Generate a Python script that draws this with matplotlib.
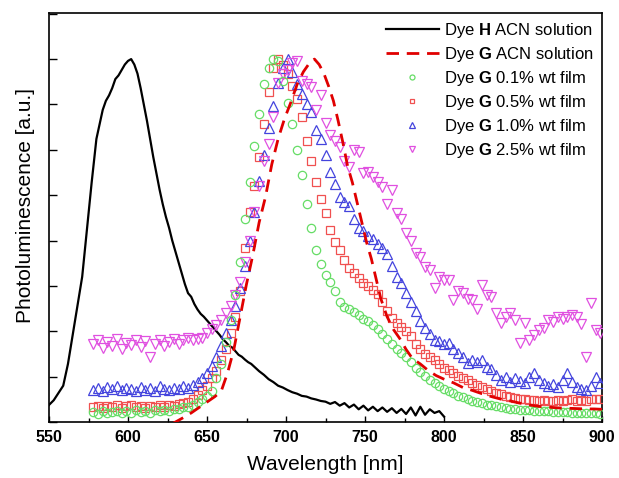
import numpy as np
import matplotlib
matplotlib.use("Agg")
import matplotlib.pyplot as plt
from matplotlib.ticker import MultipleLocator

plt.rcParams['font.family'] = ['Liberation Sans', 'DejaVu Sans']
plt.rcParams['mathtext.fontset'] = 'custom'
plt.rcParams['mathtext.rm'] = 'Liberation Sans'
plt.rcParams['mathtext.bf'] = 'Liberation Sans:bold'

# ---------------- data ----------------
# Dye H in ACN solution (line)
h_nm = [550, 553, 556, 559, 562, 565, 568, 571, 574, 577, 580, 582, 584, 586, 588, 590, 592, 594, 596, 598,
        600, 602, 604, 606, 608, 610, 612, 614, 616, 618, 620, 622, 624, 626, 628, 630, 632, 634, 636, 638,
        640, 642, 644, 646, 648, 650, 652, 654, 656, 658, 660, 662, 664, 666, 668, 670, 672, 674, 676, 678,
        680, 683, 686, 689, 692, 695, 698, 701, 704, 707, 710, 713, 716, 719, 722, 725, 728, 731, 734, 737,
        740, 743, 746, 749, 752, 755, 758, 761, 764, 767, 770, 773, 776, 779, 782, 785, 788, 791, 794, 797, 800]
h_pl = [0.047, 0.06, 0.08, 0.10, 0.16, 0.24, 0.32, 0.40, 0.53, 0.66, 0.78, 0.82, 0.86, 0.885, 0.90, 0.92, 0.945, 0.955, 0.97, 0.985,
        0.995, 1.0, 0.985, 0.96, 0.92, 0.875, 0.83, 0.78, 0.73, 0.685, 0.64, 0.60, 0.565, 0.535, 0.50, 0.47, 0.44, 0.41, 0.38, 0.355,
        0.345, 0.325, 0.31, 0.298, 0.29, 0.28, 0.27, 0.26, 0.25, 0.24, 0.228, 0.22, 0.21, 0.205, 0.195, 0.185, 0.18, 0.172, 0.165, 0.16,
        0.152, 0.14, 0.13, 0.118, 0.11, 0.10, 0.095, 0.088, 0.082, 0.078, 0.072, 0.07, 0.065, 0.062, 0.058, 0.056, 0.05, 0.055, 0.045, 0.052,
        0.04, 0.048, 0.035, 0.045, 0.032, 0.042, 0.03, 0.04, 0.028, 0.038, 0.025, 0.036, 0.022, 0.04, 0.018, 0.042, 0.02, 0.035, 0.025, 0.03, 0.015]

# Dye G in ACN solution (dashed)
g_nm = [628, 635, 640, 645, 650, 655, 659, 663, 667, 671, 675, 679, 683, 687, 691, 695, 699, 703, 707, 711,
        715, 718, 721, 724, 727, 730, 733, 736, 739, 742, 745, 748, 751, 754, 757, 760, 764, 768, 772, 776,
        780, 785, 790, 795, 800, 806, 812, 818, 824, 830, 836, 842, 848, 854, 860, 866, 872, 878, 884, 890, 895, 900]
g_pl = [-0.005, 0.012, 0.025, 0.04, 0.055, 0.07, 0.085, 0.135, 0.20, 0.29, 0.38, 0.46, 0.55, 0.62, 0.71, 0.78, 0.835, 0.88, 0.93, 0.965,
        0.99, 1.0, 0.985, 0.96, 0.925, 0.885, 0.83, 0.77, 0.705, 0.66, 0.605, 0.55, 0.495, 0.45, 0.395, 0.34, 0.29, 0.255, 0.23, 0.20,
        0.175, 0.16, 0.142, 0.128, 0.118, 0.108, 0.095, 0.087, 0.078, 0.07, 0.063, 0.058, 0.052, 0.047, 0.043, 0.041, 0.039, 0.038, 0.037, 0.036, 0.036, 0.035]

# Films: wavelength grid 578..899 nm, step 3
film_nm = list(range(578, 900, 3))

film_01 = [0.028, 0.022, 0.030, 0.025, 0.027, 0.031, 0.024, 0.029, 0.026, 0.033,
           0.028, 0.030, 0.026, 0.032, 0.029, 0.034, 0.031, 0.036, 0.035, 0.040,
           0.042, 0.048, 0.055, 0.063, 0.072, 0.085, 0.12, 0.16, 0.22, 0.28,
           0.35, 0.44, 0.56, 0.66, 0.76, 0.85, 0.93, 0.975, 1.0, 0.995,
           0.94, 0.88, 0.82, 0.75, 0.68, 0.60, 0.535, 0.475, 0.435, 0.405,
           0.385, 0.36, 0.33, 0.318, 0.31, 0.302, 0.294, 0.285, 0.277, 0.268,
           0.255, 0.242, 0.228, 0.215, 0.202, 0.19, 0.178, 0.164, 0.15, 0.138,
           0.127, 0.116, 0.107, 0.099, 0.092, 0.085, 0.079, 0.073, 0.068, 0.063,
           0.059, 0.055, 0.052, 0.048, 0.046, 0.043, 0.041, 0.039, 0.037, 0.035,
           0.034, 0.033, 0.032, 0.031, 0.030, 0.030, 0.029, 0.028, 0.028, 0.027,
           0.027, 0.026, 0.026, 0.025, 0.025, 0.024, 0.024, 0.023]

film_05 = [0.040, 0.045, 0.038, 0.044, 0.041, 0.047, 0.039, 0.043, 0.046, 0.040,
           0.044, 0.038, 0.045, 0.042, 0.047, 0.041, 0.046, 0.044, 0.050, 0.052,
           0.056, 0.062, 0.075, 0.088, 0.10, 0.12, 0.14, 0.17, 0.20, 0.245,
           0.29, 0.36, 0.48, 0.58, 0.65, 0.73, 0.82, 0.91, 0.975, 1.0,
           0.985, 0.96, 0.925, 0.89, 0.84, 0.775, 0.72, 0.66, 0.615, 0.575,
           0.53, 0.495, 0.475, 0.446, 0.425, 0.41, 0.398, 0.384, 0.376, 0.365,
           0.352, 0.33, 0.305, 0.287, 0.274, 0.262, 0.25, 0.236, 0.215, 0.20,
           0.188, 0.178, 0.17, 0.16, 0.15, 0.142, 0.135, 0.128, 0.122, 0.115,
           0.108, 0.102, 0.096, 0.09, 0.086, 0.081, 0.077, 0.073, 0.07, 0.066,
           0.064, 0.062, 0.060, 0.061, 0.058, 0.060, 0.057, 0.059, 0.061, 0.058,
           0.060, 0.062, 0.059, 0.061, 0.058, 0.062, 0.064, 0.063]

film_10 = [0.088, 0.095, 0.085, 0.097, 0.090, 0.099, 0.087, 0.094, 0.092, 0.086,
           0.096, 0.089, 0.093, 0.085, 0.098, 0.091, 0.087, 0.095, 0.090, 0.098,
           0.094, 0.103, 0.11, 0.12, 0.135, 0.155, 0.18, 0.21, 0.245, 0.28,
           0.32, 0.37, 0.43, 0.50, 0.58, 0.665, 0.735, 0.81, 0.87, 0.935,
           0.975, 1.0, 0.965, 0.93, 0.905, 0.875, 0.855, 0.805, 0.78, 0.735,
           0.69, 0.655, 0.62, 0.605, 0.595, 0.56, 0.535, 0.525, 0.512, 0.505,
           0.49, 0.48, 0.462, 0.43, 0.40, 0.382, 0.355, 0.33, 0.305, 0.278,
           0.26, 0.242, 0.226, 0.222, 0.215, 0.218, 0.20, 0.19, 0.178, 0.162,
           0.17, 0.165, 0.172, 0.152, 0.145, 0.13, 0.116, 0.125, 0.11, 0.12,
           0.112, 0.107, 0.125, 0.134, 0.115, 0.107, 0.098, 0.104, 0.097, 0.115,
           0.134, 0.11, 0.097, 0.09, 0.088, 0.10, 0.125, 0.107]

film_25 = [0.215, 0.225, 0.205, 0.22, 0.21, 0.228, 0.20, 0.218, 0.212, 0.225,
           0.208, 0.222, 0.18, 0.215, 0.226, 0.21, 0.22, 0.23, 0.215, 0.225,
           0.232, 0.225, 0.228, 0.232, 0.245, 0.255, 0.268, 0.28, 0.30, 0.32,
           0.35, 0.385, 0.44, 0.50, 0.58, 0.65, 0.72, 0.765, 0.84, 0.935,
           0.96, 0.97, 0.99, 0.995, 0.94, 0.93, 0.922, 0.86, 0.90, 0.823,
           0.79, 0.775, 0.758, 0.72, 0.703, 0.75, 0.745, 0.685, 0.69, 0.676,
           0.66, 0.648, 0.60, 0.639, 0.575, 0.56, 0.52, 0.50, 0.465, 0.455,
           0.428, 0.419, 0.368, 0.40, 0.39, 0.39, 0.336, 0.36, 0.355, 0.34,
           0.336, 0.31, 0.377, 0.35, 0.345, 0.30, 0.272, 0.29, 0.30, 0.28,
           0.217, 0.272, 0.226, 0.24, 0.253, 0.26, 0.281, 0.275, 0.29, 0.285,
           0.29, 0.295, 0.29, 0.27, 0.18, 0.327, 0.253, 0.244]

x_ticks = [550, 600, 650, 700, 750, 800, 850, 900]

# ---------------- plot ----------------
fig = plt.figure(figsize=(6.19, 4.78), dpi=100)
ax = fig.add_axes([49/619, 1 - 422/478, 553/619, 409/478])

ax.plot(h_nm, h_pl, color='black', lw=1.6, label=r'Dye $\mathbf{H}$ ACN solution', zorder=3)
ax.plot(g_nm, g_pl, color='#e00000', lw=2.0, dashes=(4.5, 2.8), label=r'Dye $\mathbf{G}$ ACN solution', zorder=6)
ax.plot(film_nm, film_01, ls='none', marker='o', ms=6, mfc='none', mec='#66dd66', mew=0.9,
        label=r'Dye $\mathbf{G}$ 0.1% wt film', zorder=5)
ax.plot(film_nm, film_05, ls='none', marker='s', ms=5.5, mfc='none', mec='#f05050', mew=0.9,
        label=r'Dye $\mathbf{G}$ 0.5% wt film', zorder=4)
ax.plot(film_nm, film_10, ls='none', marker='^', ms=7, mfc='none', mec='#4444dd', mew=0.9,
        label=r'Dye $\mathbf{G}$ 1.0% wt film', zorder=4)
ax.plot(film_nm, film_25, ls='none', marker='v', ms=7, mfc='none', mec='#e050e0', mew=0.9,
        label=r'Dye $\mathbf{G}$ 2.5% wt film', zorder=4)

ax.set_xlim(550, 900)
ax.set_ylim(0, 1.127)
ax.set_xticks(x_ticks)
ax.xaxis.set_minor_locator(MultipleLocator(25))
ax.yaxis.set_major_locator(MultipleLocator(0.125))
ax.set_yticklabels([])
ax.tick_params(axis='x', which='major', direction='in', length=4.5, width=1.0,
               labelsize=11.5, pad=6, top=False)
ax.tick_params(axis='x', which='minor', direction='in', length=3, width=1.0, top=False)
ax.tick_params(axis='y', which='major', direction='in', length=6, width=1.0, right=False)
for lab in ax.get_xticklabels():
    lab.set_fontweight('bold')
for sp in ax.spines.values():
    sp.set_linewidth(1.2)

ax.set_xlabel('Wavelength [nm]', fontsize=15, labelpad=7)
ax.set_ylabel('Photoluminescence [a.u.]', fontsize=15)
ax.yaxis.set_label_coords(-0.026, 0.53)

leg = ax.legend(loc='upper right', bbox_to_anchor=(1.0, 1.0), frameon=False, fontsize=12,
                handlelength=3.2, handletextpad=0.3, labelspacing=0.3, markerscale=0.6,
                borderaxespad=0.2, borderpad=0.3)

fig.savefig('out.png', dpi=100)
